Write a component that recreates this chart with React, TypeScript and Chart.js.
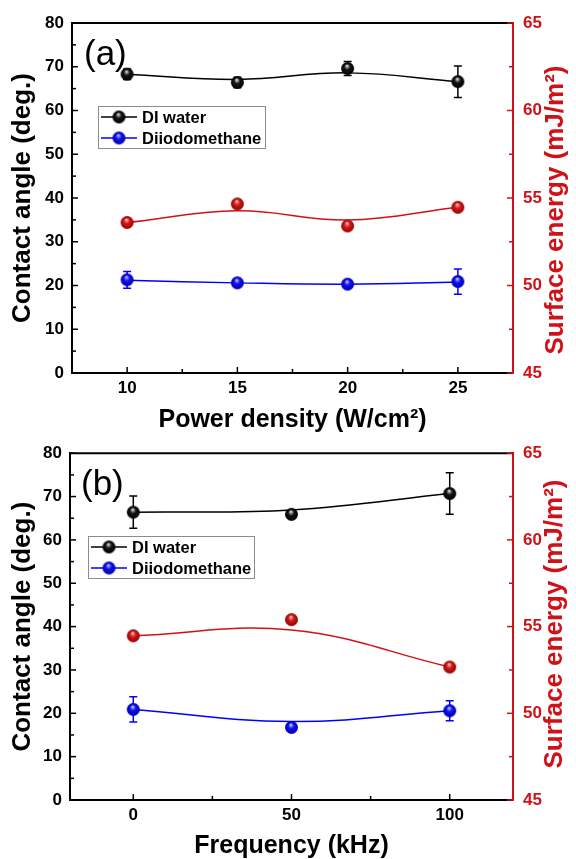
import React, { useEffect, useRef } from 'react';
import { Chart, registerables } from 'chart.js';

Chart.register(...registerables);

const FONT = "'Liberation Sans', Arial, Helvetica, sans-serif";
const RED = '#d01218';
const BLUE = '#0000ff';
const BLACK = '#000000';

// ---------- shared axis data ----------
const seriesNames = ['DI water', 'Diiodomethane'];
const angleTicks = [0, 10, 20, 30, 40, 50, 60, 70, 80];
const angleMinorTicks = [5, 15, 25, 35, 45, 55, 65, 75];
const energyTicks = [45, 50, 55, 60, 65];
const energyMinorTicks = [47.5, 52.5, 57.5, 62.5];

// ---------- panel (a): power density ----------
const powerDensity = [10, 15, 20, 25];
const powerTicks = [10, 15, 20, 25];
const powerMinorTicks = [12.5, 17.5, 22.5];
const powerWater = [68.3, 66.4, 69.6, 66.6];
const powerWaterErr = [1.2, 1.2, 1.6, 3.6];
const powerWaterFit = [68.3, 67.1, 68.6, 66.6];
const powerDiiodo = [21.3, 20.6, 20.3, 20.9];
const powerDiiodoErr = [1.9, 0.6, 0.5, 2.9];
const powerDiiodoFit = [21.2, 20.6, 20.3, 20.8];
const powerSurface = [53.6, 54.66, 53.4, 54.47];
const powerSurfaceFit = [53.6, 54.27, 53.74, 54.47];

// ---------- panel (b): frequency ----------
const frequency = [0, 50, 100];
const freqTicks = [0, 50, 100];
const freqMinorTicks = [25, 75];
const freqWater = [66.4, 65.9, 70.7];
const freqWaterErr = [3.7, 0.8, 4.8];
const freqWaterFit = [66.4, 66.9, 70.7];
const freqDiiodo = [20.9, 16.75, 20.6];
const freqDiiodoErr = [2.9, 0.5, 2.3];
const freqDiiodoFit = [20.9, 18.1, 20.6];
const freqSurface = [54.47, 55.4, 52.67];
const freqSurfaceFit = [54.47, 54.8, 52.67];

function makeBall(light: string, base: string, dark: string, r = 6.5): HTMLCanvasElement {
  const size = Math.ceil(r * 2) + 2;
  const c = document.createElement('canvas');
  c.width = size;
  c.height = size;
  const g = c.getContext('2d')!;
  const cx = size / 2;
  const cy = size / 2;
  const grad = g.createRadialGradient(cx - r * 0.1, cy - r * 0.45, 0, cx, cy, r);
  grad.addColorStop(0, '#ffffff');
  grad.addColorStop(0.18, light);
  grad.addColorStop(0.45, base);
  grad.addColorStop(1, dark);
  g.fillStyle = grad;
  g.beginPath();
  g.arc(cx, cy, r, 0, Math.PI * 2);
  g.fill();
  return c;
}

type PanelCfg = {
  topPad: number;
  leftW: number;
  rightW: number;
  xH: number;
  xs: number[];
  xMin: number;
  xMax: number;
  xTicks: number[];
  xMinor: number[];
  xTitle: string;
  water: number[];
  waterErr: number[];
  waterFit: number[];
  diiodo: number[];
  diiodoErr: number[];
  diiodoFit: number[];
  surface: number[];
  surfaceFit: number[];
  label: string;
  labelX: number;
  labelY: number;
  legend: { x: number; y: number; w: number; h: number };
  rightTitleX: number;
  rightTitleY: number;
};

function buildChart(canvas: HTMLCanvasElement, p: PanelCfg) {
  const blackBall = makeBall('#9a9a9a', '#151515', '#000000');
  const blueBall = makeBall('#8080ff', '#1010f0', '#0000b0');
  const redBall = makeBall('#f08080', '#d01a1a', '#980000');

  const pts = (ys: number[]) => p.xs.map((x, i) => ({ x, y: ys[i] }));

  const tickFont = { family: FONT, size: 17, weight: 'bold' as const };
  const yTitleFont = { family: FONT, size: 26, weight: 'bold' as const, lineHeight: 1 };
  const xTitleFont = { family: FONT, size: 25, weight: 'bold' as const, lineHeight: 1 };

  const errorBars = {
    id: 'errorBars',
    beforeDatasetsDraw(chart: any) {
      const ctx = chart.ctx;
      chart.data.datasets.forEach((ds: any) => {
        if (!ds.errors) return;
        const ys = chart.scales[ds.yAxisID];
        const xsScale = chart.scales.x;
        ds.data.forEach((pt: any, i: number) => {
          const e = ds.errors[i];
          if (!e) return;
          const px = xsScale.getPixelForValue(pt.x);
          const top = ys.getPixelForValue(pt.y + e);
          const bot = ys.getPixelForValue(pt.y - e);
          ctx.save();
          ctx.strokeStyle = ds.errColor;
          ctx.lineWidth = 1.5;
          ctx.beginPath();
          ctx.moveTo(px, top);
          ctx.lineTo(px, bot);
          ctx.moveTo(px - 4, top);
          ctx.lineTo(px + 4, top);
          ctx.moveTo(px - 4, bot);
          ctx.lineTo(px + 4, bot);
          ctx.stroke();
          ctx.restore();
        });
      });
    },
  };

  const decorations = {
    id: 'decorations',
    afterDraw(chart: any) {
      const ctx = chart.ctx;
      const a = chart.chartArea;
      const sx = chart.scales.x;
      const sy = chart.scales.y;
      const sy1 = chart.scales.y1;
      ctx.save();
      // top frame line
      ctx.strokeStyle = BLACK;
      ctx.lineWidth = 2;
      ctx.beginPath();
      ctx.moveTo(a.left - 1, a.top);
      ctx.lineTo(a.right, a.top);
      ctx.stroke();
      // inward ticks
      ctx.lineWidth = 1.5;
      const vTick = (v: number, len: number) => {
        const x = sx.getPixelForValue(v);
        ctx.beginPath();
        ctx.moveTo(x, a.bottom);
        ctx.lineTo(x, a.bottom - len);
        ctx.stroke();
      };
      p.xTicks.forEach((v) => vTick(v, 6));
      p.xMinor.forEach((v) => vTick(v, 4));
      const lTick = (v: number, len: number) => {
        const y = sy.getPixelForValue(v);
        ctx.beginPath();
        ctx.moveTo(a.left, y);
        ctx.lineTo(a.left + len, y);
        ctx.stroke();
      };
      angleTicks.forEach((v) => lTick(v, 6));
      angleMinorTicks.forEach((v) => lTick(v, 4));
      ctx.strokeStyle = RED;
      const rTick = (v: number, len: number) => {
        const y = sy1.getPixelForValue(v);
        ctx.beginPath();
        ctx.moveTo(a.right, y);
        ctx.lineTo(a.right - len, y);
        ctx.stroke();
      };
      energyTicks.forEach((v) => rTick(v, 6));
      energyMinorTicks.forEach((v) => rTick(v, 4));

      // right axis title (reads bottom to top)
      ctx.fillStyle = RED;
      ctx.font = `bold 26px ${FONT}`;
      ctx.textAlign = 'center';
      ctx.textBaseline = 'middle';
      ctx.translate(p.rightTitleX, p.rightTitleY);
      ctx.rotate(-Math.PI / 2);
      ctx.fillText('Surface energy (mJ/m²)', 0, 0);
      ctx.restore();

      // panel label
      ctx.save();
      ctx.fillStyle = BLACK;
      ctx.font = `normal 35px ${FONT}`;
      ctx.textAlign = 'left';
      ctx.textBaseline = 'middle';
      ctx.fillText(p.label, p.labelX, p.labelY);
      ctx.restore();

      // legend
      const L = p.legend;
      ctx.save();
      ctx.fillStyle = '#ffffff';
      ctx.fillRect(L.x, L.y, L.w, L.h);
      ctx.strokeStyle = '#8c8c8c';
      ctx.lineWidth = 1;
      ctx.strokeRect(L.x + 0.5, L.y + 0.5, L.w, L.h);
      const entries = [
        { name: seriesNames[0], color: BLACK, ball: blackBall },
        { name: seriesNames[1], color: BLUE, ball: blueBall },
      ];
      entries.forEach((e, i) => {
        const cy = L.y + 11 + i * 21;
        ctx.strokeStyle = e.color;
        ctx.lineWidth = 1.5;
        ctx.beginPath();
        ctx.moveTo(L.x + 3, cy);
        ctx.lineTo(L.x + 39, cy);
        ctx.stroke();
        ctx.drawImage(e.ball, L.x + 21 - e.ball.width / 2, cy - e.ball.height / 2);
        ctx.fillStyle = BLACK;
        ctx.font = `bold 16.5px ${FONT}`;
        ctx.textAlign = 'left';
        ctx.textBaseline = 'middle';
        ctx.fillText(e.name, L.x + 44, cy + 1);
      });
      ctx.restore();
    },
  };

  const fitLine = (ys: number[], color: string, axis: string) => ({
    label: 'fit',
    data: pts(ys),
    yAxisID: axis,
    showLine: true,
    borderColor: color,
    borderWidth: 1.5,
    pointRadius: 0,
    tension: 0.4,
    fill: false,
  });

  return new Chart(canvas, {
    type: 'scatter',
    data: {
      datasets: [
        { label: seriesNames[0], data: pts(p.water), yAxisID: 'y', pointStyle: blackBall, errors: p.waterErr, errColor: BLACK } as any,
        { label: seriesNames[1], data: pts(p.diiodo), yAxisID: 'y', pointStyle: blueBall, errors: p.diiodoErr, errColor: BLUE } as any,
        { label: 'Surface energy', data: pts(p.surface), yAxisID: 'y1', pointStyle: redBall } as any,
        fitLine(p.waterFit, BLACK, 'y'),
        fitLine(p.diiodoFit, BLUE, 'y'),
        fitLine(p.surfaceFit, RED, 'y1'),
      ],
    },
    options: {
      responsive: false,
      animation: false,
      events: [],
      layout: { padding: { top: p.topPad, left: 0, right: 0, bottom: 0 } },
      plugins: { legend: { display: false }, tooltip: { enabled: false } },
      scales: {
        x: {
          type: 'linear',
          position: 'bottom',
          min: p.xMin,
          max: p.xMax,
          afterBuildTicks: (s: any) => {
            s.ticks = p.xTicks.map((v) => ({ value: v }));
          },
          afterFit: (s: any) => {
            s.height = p.xH;
          },
          ticks: { font: tickFont, color: BLACK, padding: 5, maxRotation: 0, autoSkip: false },
          grid: { display: false, drawTicks: false },
          border: { display: true, color: BLACK, width: 2 },
          title: { display: true, text: p.xTitle, color: BLACK, font: xTitleFont, padding: { top: 0, bottom: 0 } },
        },
        y: {
          type: 'linear',
          position: 'left',
          min: 0,
          max: 80,
          afterBuildTicks: (s: any) => {
            s.ticks = angleTicks.map((v) => ({ value: v }));
          },
          afterFit: (s: any) => {
            s.width = p.leftW;
          },
          ticks: { font: tickFont, color: BLACK, padding: 8 },
          grid: { display: false, drawTicks: false },
          border: { display: true, color: BLACK, width: 2 },
          title: { display: true, text: 'Contact angle (deg.)', color: BLACK, font: yTitleFont, padding: { top: 10, bottom: 0 } },
        },
        y1: {
          type: 'linear',
          position: 'right',
          min: 45,
          max: 65,
          afterBuildTicks: (s: any) => {
            s.ticks = energyTicks.map((v) => ({ value: v }));
          },
          afterFit: (s: any) => {
            s.width = p.rightW;
          },
          ticks: { font: tickFont, color: RED, padding: 10 },
          grid: { display: false, drawTicks: false },
          border: { display: true, color: RED, width: 2 },
        },
      },
    } as any,
    plugins: [errorBars, decorations],
  });
}

const TOP_H = 433;
const BOTTOM_H = 859 - TOP_H;

export default function App() {
  const topRef = useRef<HTMLCanvasElement>(null);
  const botRef = useRef<HTMLCanvasElement>(null);

  useEffect(() => {
    const c1 = buildChart(topRef.current!, {
      topPad: 23,
      leftW: 72,
      rightW: 63,
      xH: TOP_H - 373,
      xs: powerDensity,
      xMin: 7.5,
      xMax: 27.5,
      xTicks: powerTicks,
      xMinor: powerMinorTicks,
      xTitle: 'Power density (W/cm²)',
      water: powerWater,
      waterErr: powerWaterErr,
      waterFit: powerWaterFit,
      diiodo: powerDiiodo,
      diiodoErr: powerDiiodoErr,
      diiodoFit: powerDiiodoFit,
      surface: powerSurface,
      surfaceFit: powerSurfaceFit,
      label: '(a)',
      labelX: 84,
      labelY: 55,
      legend: { x: 98, y: 106, w: 167, h: 42 },
      rightTitleX: 556,
      rightTitleY: 210,
    });
    const c2 = buildChart(botRef.current!, {
      topPad: 450 - TOP_H,
      leftW: 70,
      rightW: 63,
      xH: BOTTOM_H - (800 - TOP_H),
      xs: frequency,
      xMin: -20,
      xMax: 120,
      xTicks: freqTicks,
      xMinor: freqMinorTicks,
      xTitle: 'Frequency (kHz)',
      water: freqWater,
      waterErr: freqWaterErr,
      waterFit: freqWaterFit,
      diiodo: freqDiiodo,
      diiodoErr: freqDiiodoErr,
      diiodoFit: freqDiiodoFit,
      surface: freqSurface,
      surfaceFit: freqSurfaceFit,
      label: '(b)',
      labelX: 81,
      labelY: 485 - TOP_H,
      legend: { x: 88, y: 536 - TOP_H, w: 166, h: 42 },
      rightTitleX: 555,
      rightTitleY: 624 - TOP_H,
    });
    return () => {
      c1.destroy();
      c2.destroy();
    };
  }, []);

  return (
    <div style={{ position: 'fixed', left: 0, top: 0, width: 576, height: 859, background: '#ffffff' }}>
      <canvas ref={topRef} width={576} height={TOP_H} style={{ display: 'block' }} />
      <canvas ref={botRef} width={576} height={BOTTOM_H} style={{ display: 'block' }} />
    </div>
  );
}
